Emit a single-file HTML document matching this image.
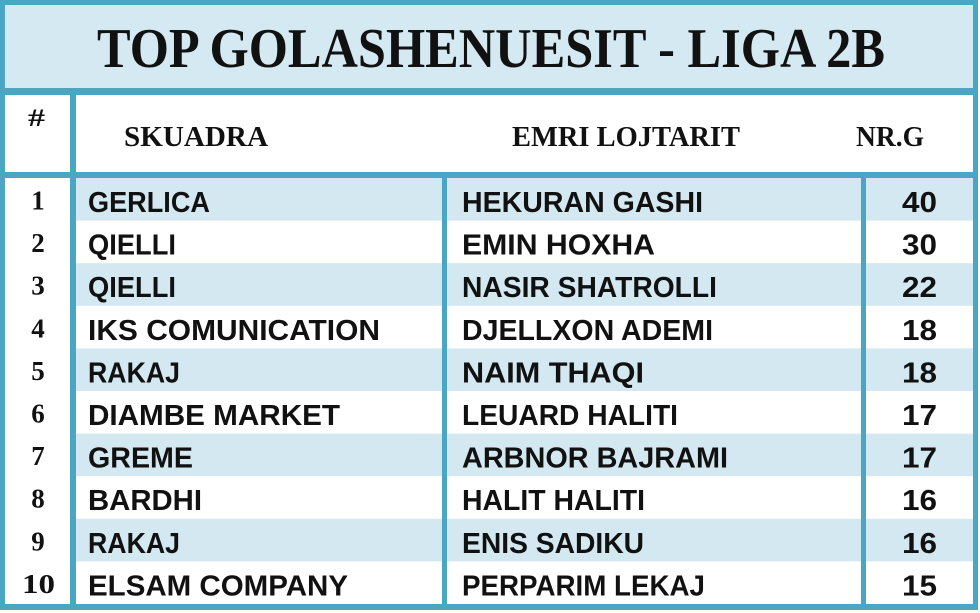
<!DOCTYPE html>
<html>
<head>
<meta charset="utf-8">
<style>
  html,body{margin:0;padding:0;background:#fff;}
  svg{display:block;}
  .t{font-family:"Liberation Serif",serif;font-weight:bold;fill:#111;}
  .s{font-family:"Liberation Sans",sans-serif;font-weight:bold;fill:#111;font-size:29px;}
</style>
</head>
<body>
<svg width="980" height="613" viewBox="0 0 980 613" xmlns="http://www.w3.org/2000/svg">
  <rect x="0" y="0" width="980" height="613" fill="#ffffff"/>
  <!-- title background -->
  <rect x="5" y="5" width="968" height="83" fill="#d4e9f2"/>
  <!-- row stripes -->
  <g fill="#d3e8f1">
    <rect x="76" y="178" width="897" height="42.6"/>
    <rect x="76" y="263.2" width="897" height="42.6"/>
    <rect x="76" y="348.4" width="897" height="42.6"/>
    <rect x="76" y="433.6" width="897" height="42.6"/>
    <rect x="76" y="518.8" width="897" height="42.6"/>
  </g>
  <!-- borders -->
  <g fill="#4ba6c3">
    <rect x="0" y="0" width="978" height="5"/>
    <rect x="0" y="0" width="5" height="610"/>
    <rect x="973" y="0" width="5" height="610"/>
    <rect x="0" y="604" width="978" height="6"/>
    <rect x="0" y="88" width="978" height="7"/>
    <rect x="0" y="172" width="978" height="6"/>
    <rect x="70" y="95" width="6" height="510"/>
    <rect x="442" y="178" width="5" height="427"/>
    <rect x="861" y="178" width="5" height="427"/>
  </g>
  <!-- title -->
  <text class="t" x="97" y="67" font-size="56" textLength="788" lengthAdjust="spacingAndGlyphs">TOP GOLASHENUESIT - LIGA 2B</text>
  <!-- header -->
  <text class="t" x="28" y="126" font-size="25" textLength="17" lengthAdjust="spacingAndGlyphs">#</text>
  <text class="t" x="124" y="146" font-size="28" textLength="144" lengthAdjust="spacingAndGlyphs">SKUADRA</text>
  <text class="t" x="512" y="146" font-size="28" textLength="228" lengthAdjust="spacingAndGlyphs">EMRI LOJTARIT</text>
  <text class="t" x="856" y="146" font-size="28" textLength="68" lengthAdjust="spacingAndGlyphs">NR.G</text>

  <!-- row numbers -->
  <g class="t" font-size="27" text-anchor="middle">
    <text x="38" y="209.5">1</text>
    <text x="38" y="252.1">2</text>
    <text x="38" y="294.7">3</text>
    <text x="38" y="337.3">4</text>
    <text x="38" y="379.9">5</text>
    <text x="38" y="422.5">6</text>
    <text x="38" y="465.1">7</text>
    <text x="38" y="507.7">8</text>
    <text x="38" y="550.3">9</text>
  </g>
  <text class="t" x="22" y="592.9" font-size="27" textLength="33" lengthAdjust="spacingAndGlyphs">10</text>

  <!-- teams -->
  <text class="s" x="88" y="212" textLength="122" lengthAdjust="spacingAndGlyphs">GERLICA</text>
  <text class="s" x="88" y="254.6" textLength="88" lengthAdjust="spacingAndGlyphs">QIELLI</text>
  <text class="s" x="88" y="297.2" textLength="88" lengthAdjust="spacingAndGlyphs">QIELLI</text>
  <text class="s" x="88" y="339.8" textLength="292" lengthAdjust="spacingAndGlyphs">IKS COMUNICATION</text>
  <text class="s" x="88" y="382.4" textLength="92" lengthAdjust="spacingAndGlyphs">RAKAJ</text>
  <text class="s" x="88" y="425" textLength="252" lengthAdjust="spacingAndGlyphs">DIAMBE MARKET</text>
  <text class="s" x="88" y="467.6" textLength="105" lengthAdjust="spacingAndGlyphs">GREME</text>
  <text class="s" x="88" y="510.2" textLength="114" lengthAdjust="spacingAndGlyphs">BARDHI</text>
  <text class="s" x="88" y="552.8" textLength="92" lengthAdjust="spacingAndGlyphs">RAKAJ</text>
  <text class="s" x="88" y="595.4" textLength="260" lengthAdjust="spacingAndGlyphs">ELSAM COMPANY</text>

  <!-- players -->
  <text class="s" x="462" y="212" textLength="241" lengthAdjust="spacingAndGlyphs">HEKURAN GASHI</text>
  <text class="s" x="462" y="254.6" textLength="193" lengthAdjust="spacingAndGlyphs">EMIN HOXHA</text>
  <text class="s" x="462" y="297.2" textLength="255" lengthAdjust="spacingAndGlyphs">NASIR SHATROLLI</text>
  <text class="s" x="462" y="339.8" textLength="251" lengthAdjust="spacingAndGlyphs">DJELLXON ADEMI</text>
  <text class="s" x="462" y="382.4" textLength="182" lengthAdjust="spacingAndGlyphs">NAIM THAQI</text>
  <text class="s" x="462" y="425" textLength="216" lengthAdjust="spacingAndGlyphs">LEUARD HALITI</text>
  <text class="s" x="462" y="467.6" textLength="266" lengthAdjust="spacingAndGlyphs">ARBNOR BAJRAMI</text>
  <text class="s" x="462" y="510.2" textLength="183" lengthAdjust="spacingAndGlyphs">HALIT HALITI</text>
  <text class="s" x="462" y="552.8" textLength="182" lengthAdjust="spacingAndGlyphs">ENIS SADIKU</text>
  <text class="s" x="462" y="595.4" textLength="243" lengthAdjust="spacingAndGlyphs">PERPARIM LEKAJ</text>

  <!-- goals -->
  <text class="s" x="902" y="212" textLength="35" lengthAdjust="spacingAndGlyphs">40</text>
  <text class="s" x="902" y="254.6" textLength="35" lengthAdjust="spacingAndGlyphs">30</text>
  <text class="s" x="902" y="297.2" textLength="35" lengthAdjust="spacingAndGlyphs">22</text>
  <text class="s" x="902" y="339.8" textLength="35" lengthAdjust="spacingAndGlyphs">18</text>
  <text class="s" x="902" y="382.4" textLength="35" lengthAdjust="spacingAndGlyphs">18</text>
  <text class="s" x="902" y="425" textLength="35" lengthAdjust="spacingAndGlyphs">17</text>
  <text class="s" x="902" y="467.6" textLength="35" lengthAdjust="spacingAndGlyphs">17</text>
  <text class="s" x="902" y="510.2" textLength="35" lengthAdjust="spacingAndGlyphs">16</text>
  <text class="s" x="902" y="552.8" textLength="35" lengthAdjust="spacingAndGlyphs">16</text>
  <text class="s" x="902" y="595.4" textLength="35" lengthAdjust="spacingAndGlyphs">15</text>
</svg>
</body>
</html>
